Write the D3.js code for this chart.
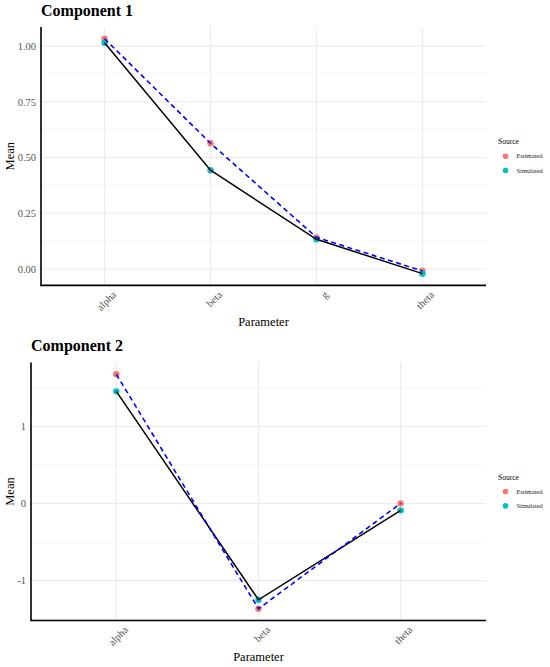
<!DOCTYPE html>
<html>
<head>
<meta charset="utf-8">
<script src="https://cdn.jsdelivr.net/npm/d3@7"></script>
<style>
  body { margin: 0; background: #fff; }
  text { font-family: "Liberation Serif", serif; }
</style>
</head>
<body>
<div id="chart"></div>
<script>
// data
const params1 = ["alpha", "beta", "g", "theta"];
const estimated1 = [1.033, 0.564, 0.142, -0.009];
const simulated1 = [1.015, 0.443, 0.133, -0.021];
const yTicks1 = [0, 0.25, 0.5, 0.75, 1];
const yMinor1 = [0.125, 0.375, 0.625, 0.875];

const params2 = ["alpha", "beta", "theta"];
const estimated2 = [1.678, -1.366, 0.003];
const simulated2 = [1.457, -1.249, -0.088];
const yTicks2 = [-1, 0, 1];
const yMinor2 = [-1.5, -0.5, 0.5, 1.5];

const sources = ["Estimated", "Simulated"];
const colors = { Estimated: "#F8766D", Simulated: "#00BFC4" };

const width = 550, height = 667;

const svg = d3
  .select("#chart")
  .append("svg")
  .attr("width", width)
  .attr("height", height);

function drawPanel(cfg) {
  const g = svg.append("g");

  const x = d3.scalePoint()
    .domain(cfg.params)
    .range([cfg.left, cfg.right])
    .padding(0.6);

  // ggplot style 5% expansion
  const all = cfg.est.concat(cfg.sim);
  const lo = d3.min(all), hi = d3.max(all);
  const pad = (hi - lo) * 0.05;
  const y = d3.scaleLinear()
    .domain([lo - pad, hi + pad])
    .range([cfg.bottom, cfg.top]);

  // grid
  g.selectAll(".minor")
    .data(cfg.minor.filter(v => v > lo - pad && v < hi + pad))
    .join("line")
    .attr("x1", cfg.left).attr("x2", cfg.right)
    .attr("y1", d => y(d)).attr("y2", d => y(d))
    .attr("stroke", "#f3f3f3").attr("stroke-width", 0.8);
  g.selectAll(".major")
    .data(cfg.ticks)
    .join("line")
    .attr("x1", cfg.left).attr("x2", cfg.right)
    .attr("y1", d => y(d)).attr("y2", d => y(d))
    .attr("stroke", "#ebebeb").attr("stroke-width", 1.1);
  g.selectAll(".vgrid")
    .data(cfg.params)
    .join("line")
    .attr("x1", d => x(d)).attr("x2", d => x(d))
    .attr("y1", cfg.top).attr("y2", cfg.bottom)
    .attr("stroke", "#ebebeb").attr("stroke-width", 1.1);

  // axes
  const yAxis = g.append("g")
    .attr("transform", `translate(${cfg.left},0)`)
    .call(d3.axisLeft(y).tickValues(cfg.ticks).tickSize(0).tickPadding(5).tickFormat(cfg.fmt));
  yAxis.select(".domain").remove();
  yAxis.selectAll("text").attr("fill", "#555").style("font-size", "10.5px")
    .style("font-family", "Liberation Serif");

  const xAxis = g.append("g")
    .attr("transform", `translate(0,${cfg.bottom})`)
    .call(d3.axisBottom(x).tickSize(0).tickPadding(6));
  xAxis.select(".domain").remove();
  xAxis.selectAll("text")
    .attr("fill", "#555")
    .style("font-size", "10.5px")
    .style("font-family", "Liberation Serif")
    .attr("text-anchor", "end")
    .attr("dy", "0.5em")
    .attr("transform", "translate(4,2) rotate(-45)");

  g.append("line")
    .attr("x1", cfg.left).attr("x2", cfg.left)
    .attr("y1", cfg.top).attr("y2", cfg.bottom + 0.8)
    .attr("stroke", "#000").attr("stroke-width", 1.6);
  g.append("line")
    .attr("x1", cfg.left).attr("x2", cfg.right)
    .attr("y1", cfg.bottom).attr("y2", cfg.bottom)
    .attr("stroke", "#000").attr("stroke-width", 1.6);

  // points
  const pts = [];
  cfg.params.forEach((p, i) => {
    pts.push({ p: p, v: cfg.est[i], s: "Estimated" });
    pts.push({ p: p, v: cfg.sim[i], s: "Simulated" });
  });
  g.selectAll(".pt")
    .data(pts)
    .join("circle")
    .attr("cx", d => x(d.p))
    .attr("cy", d => y(d.v))
    .attr("r", 3.2)
    .attr("fill", d => colors[d.s]);

  // lines
  const line = d3.line().x((d, i) => x(cfg.params[i])).y(d => y(d));
  g.append("path")
    .attr("d", line(cfg.sim))
    .attr("fill", "none")
    .attr("stroke", "#000")
    .attr("stroke-width", 1.5);
  g.append("path")
    .attr("d", line(cfg.est))
    .attr("fill", "none")
    .attr("stroke", "#0000ff")
    .attr("stroke-width", 1.6)
    .attr("stroke-dasharray", "5,3.5");

  // titles
  g.append("text")
    .attr("x", cfg.left)
    .attr("y", cfg.titleY)
    .style("font-size", "16px")
    .style("font-weight", "bold")
    .text(cfg.title);
  g.append("text")
    .attr("x", (cfg.left + cfg.right) / 2)
    .attr("y", cfg.xTitleY)
    .attr("text-anchor", "middle")
    .style("font-size", "12.5px")
    .text("Parameter");
  g.append("text")
    .attr("transform", `translate(14,${(cfg.top + cfg.bottom) / 2}) rotate(-90)`)
    .attr("text-anchor", "middle")
    .style("font-size", "12.5px")
    .text("Mean");

  // legend
  const mid = (cfg.top + cfg.bottom) / 2;
  g.append("text")
    .attr("x", 498)
    .attr("y", mid - 12)
    .style("font-size", "7.5px")
    .text("Source");
  const leg = g.selectAll(".leg")
    .data(sources)
    .join("g")
    .attr("transform", (d, i) => `translate(505.5,${mid + i * 14.3})`);
  leg.append("circle").attr("r", 2.8).attr("fill", d => colors[d]);
  leg.append("text")
    .attr("x", 11)
    .attr("dy", "0.32em")
    .style("font-size", "6.5px")
    .attr("fill", "#222")
    .text(d => d);
}

drawPanel({
  title: "Component 1", titleY: 16,
  params: params1, est: estimated1, sim: simulated1,
  ticks: yTicks1, minor: yMinor1, fmt: d3.format(".2f"),
  left: 41, right: 486, top: 27, bottom: 285.4, xTitleY: 326
});
drawPanel({
  title: "Component 2", titleY: 351,
  params: params2, est: estimated2, sim: simulated2,
  ticks: yTicks2, minor: yMinor2, fmt: d => String(d),
  left: 31, right: 486, top: 362.6, bottom: 620.5, xTitleY: 661
});
</script>
</body>
</html>
